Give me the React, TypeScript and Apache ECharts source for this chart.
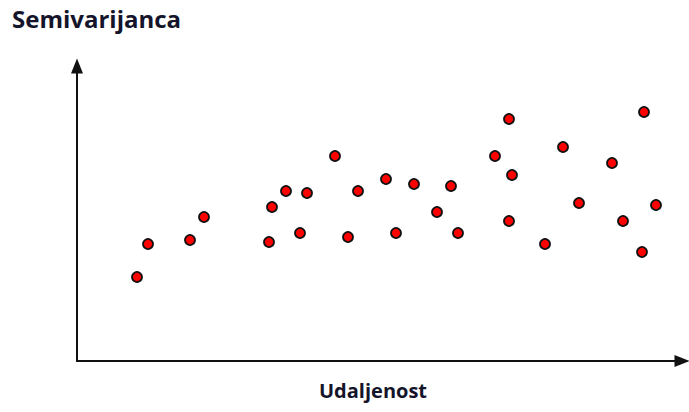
import React, { useEffect, useRef } from "react";
import * as echarts from "echarts";

// distance (x) and semivariance (y), in arbitrary units
const distance = [60, 71, 113, 127, 192, 195, 209, 223, 230, 258, 271, 281, 309, 319, 337, 360, 374, 381, 418, 432, 435, 432, 468, 486, 502, 535, 546, 567, 565, 579];
const semivariance = [84, 117, 121, 144, 119, 154, 170, 128, 168, 205, 124, 170, 182, 128, 177, 149, 175, 128, 205, 242, 186, 140, 117, 214, 158, 198, 140, 249, 109, 156];
const yTitle = "Semivarijanca";
const xTitle = "Udaljenost";

export default function App() {
  const ref = useRef<HTMLDivElement>(null);
  useEffect(() => {
    if (!ref.current) return;
    const chart = echarts.init(ref.current, null, { renderer: "svg" });
    const points = distance.map((d, i) => [d, semivariance[i]]);
    const axisLine = {
      show: true,
      symbol: ["none", "triangle"],
      symbolSize: [12, 15],
      lineStyle: { color: "#111", width: 2 },
    };
    chart.setOption({
      animation: false,
      backgroundColor: "#fff",
      grid: { left: 77, top: 66, width: 605, height: 295 },
      xAxis: {
        type: "value",
        min: 0,
        max: 605,
        axisLine,
        axisTick: { show: false },
        axisLabel: { show: false },
        splitLine: { show: false },
      },
      yAxis: {
        type: "value",
        min: 0,
        max: 295,
        axisLine,
        axisTick: { show: false },
        axisLabel: { show: false },
        splitLine: { show: false },
      },
      graphic: [
        {
          type: "text",
          left: 12,
          top: 6,
          style: {
            text: yTitle,
            font: 'bold 24px "Open Sans"',
            fill: "#14142a",
          },
        },
        {
          type: "text",
          left: 319,
          top: 380,
          style: {
            text: xTitle,
            font: 'bold 20px "Open Sans"',
            fill: "#14142a",
          },
        },
      ],
      series: [
        {
          type: "scatter",
          data: points,
          symbol: "circle",
          symbolSize: 10,
          itemStyle: { color: "#ff0000", borderColor: "#111", borderWidth: 1.8, opacity: 1 },
        },
      ],
    });
    return () => chart.dispose();
  }, []);
  return (
    <div
      ref={ref}
      style={{ position: "fixed", left: 0, top: 0, width: 689, height: 412 }}
    />
  );
}
